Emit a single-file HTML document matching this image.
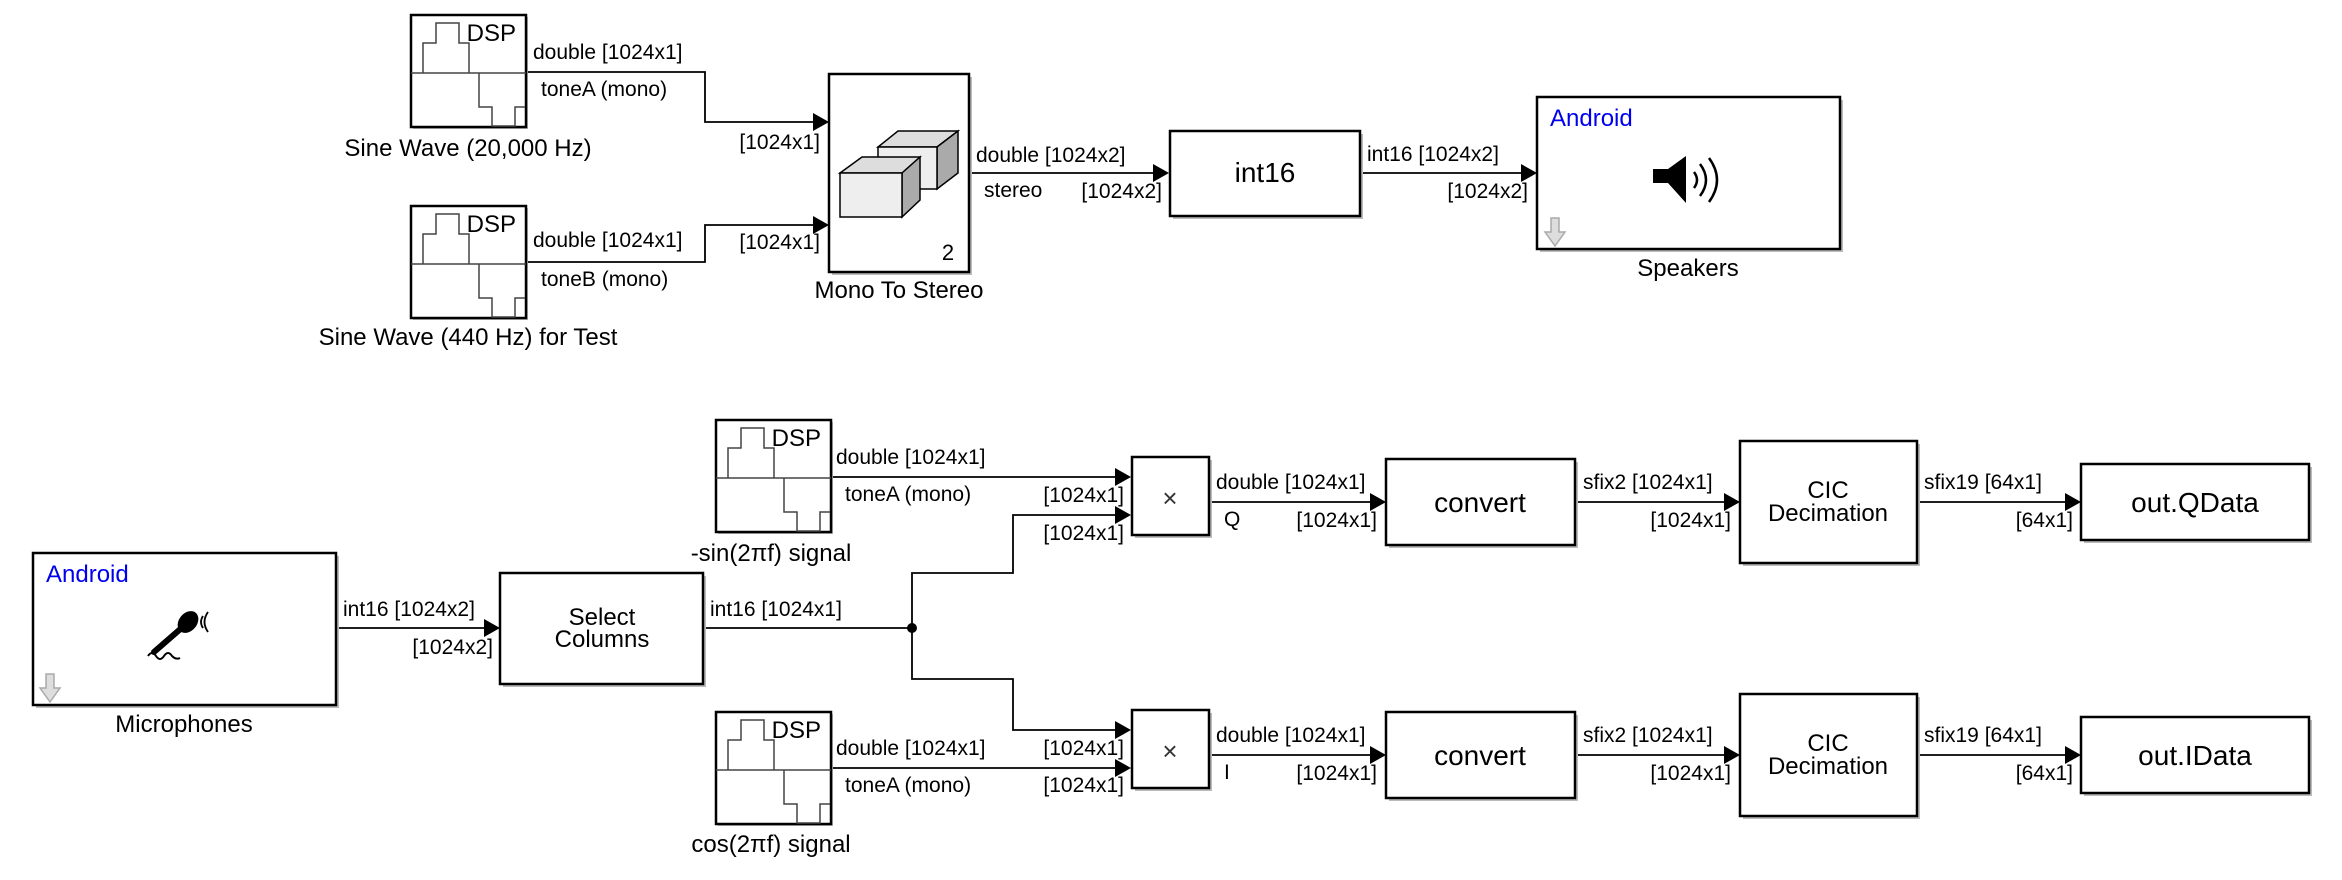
<!DOCTYPE html>
<html><head><meta charset="utf-8"><style>html,body{margin:0;padding:0;background:#fff;}svg{display:block}</style></head>
<body>
<svg width="2342" height="880" viewBox="0 0 2342 880" xmlns="http://www.w3.org/2000/svg" font-family="Liberation Sans, Arial, sans-serif">
<defs>
<g id="dsp">
<rect x="2" y="2" width="115" height="112" fill="#bbb"/>
<rect x="0" y="0" width="115" height="112" fill="#fff" stroke="#000" stroke-width="2.5"/>
<line x1="0" y1="58" x2="115" y2="58" stroke="#444" stroke-width="1.5"/>
<polyline points="12,58 12,28 25,28 25,8 48,8 48,28 58,28 58,58" fill="none" stroke="#444" stroke-width="1.5"/>
<polyline points="68,58 68,92 81,92 81,111 104,111 104,92 114,92" fill="none" stroke="#444" stroke-width="1.5"/>
<text x="105" y="26" font-size="24" text-anchor="end">DSP</text>
</g>
<g id="grey"><path d="M-4,0 h8 v14 h6 l-10,14 l-10,-14 h6 z" fill="#ddd" stroke="#aaa" stroke-width="1.5"/></g>
</defs>
<g fill="none" stroke="#000" stroke-width="1.8">
<polyline points="526,72 705,72 705,122 814,122"/>
<polyline points="526,262 705,262 705,225 814,225"/>
<line x1="969" y1="173" x2="1154" y2="173"/>
<line x1="1360" y1="173" x2="1522" y2="173"/>
<line x1="336" y1="628" x2="485" y2="628"/>
<line x1="703" y1="628" x2="912" y2="628"/>
<polyline points="912,628 912,573 1013,573 1013,515 1116,515"/>
<polyline points="912,628 912,679 1013,679 1013,730 1116,730"/>
<line x1="831" y1="477" x2="1116" y2="477"/>
<line x1="831" y1="768" x2="1116" y2="768"/>
<line x1="1209" y1="502" x2="1371" y2="502"/>
<line x1="1575" y1="502" x2="1725" y2="502"/>
<line x1="1917" y1="502" x2="2066" y2="502"/>
<line x1="1209" y1="755" x2="1371" y2="755"/>
<line x1="1575" y1="755" x2="1725" y2="755"/>
<line x1="1917" y1="755" x2="2066" y2="755"/>
</g>
<circle cx="912" cy="628" r="5" fill="#000"/>
<g fill="#000">
<polygon points="813,113 829,122 813,131"/>
<polygon points="813,216 829,225 813,234"/>
<polygon points="1153,164 1169,173 1153,182"/>
<polygon points="1521,164 1537,173 1521,182"/>
<polygon points="484,619 500,628 484,637"/>
<polygon points="1115,468 1131,477 1115,486"/>
<polygon points="1115,506 1131,515 1115,524"/>
<polygon points="1115,721 1131,730 1115,739"/>
<polygon points="1115,759 1131,768 1115,777"/>
<polygon points="1370,493 1386,502 1370,511"/>
<polygon points="1724,493 1740,502 1724,511"/>
<polygon points="2065,493 2081,502 2065,511"/>
<polygon points="1370,746 1386,755 1370,764"/>
<polygon points="1724,746 1740,755 1724,764"/>
<polygon points="2065,746 2081,755 2065,764"/>
</g>
<use href="#dsp" x="411" y="15"/>
<use href="#dsp" x="411" y="206"/>
<use href="#dsp" x="716" y="420"/>
<use href="#dsp" x="716" y="712"/>
<g stroke="none" fill="#bbb">
<rect x="832" y="77" width="140" height="198"/>
<rect x="1173" y="134" width="190" height="85"/>
<rect x="1540" y="100" width="303" height="152"/>
<rect x="36" y="556" width="303" height="152"/>
<rect x="503" y="576" width="203" height="111"/>
<rect x="1135" y="460" width="77" height="78"/>
<rect x="1389" y="462" width="189" height="86"/>
<rect x="1743" y="444" width="177" height="122"/>
<rect x="2084" y="467" width="228" height="76"/>
<rect x="1135" y="713" width="77" height="78"/>
<rect x="1389" y="715" width="189" height="86"/>
<rect x="1743" y="697" width="177" height="122"/>
<rect x="2084" y="720" width="228" height="76"/>
</g>
<g fill="#fff" stroke="#000" stroke-width="2.5">
<rect x="829" y="74" width="140" height="198"/>
<rect x="1170" y="131" width="190" height="85"/>
<rect x="1537" y="97" width="303" height="152"/>
<rect x="33" y="553" width="303" height="152"/>
<rect x="500" y="573" width="203" height="111"/>
<rect x="1132" y="457" width="77" height="78"/>
<rect x="1386" y="459" width="189" height="86"/>
<rect x="1740" y="441" width="177" height="122"/>
<rect x="2081" y="464" width="228" height="76"/>
<rect x="1132" y="710" width="77" height="78"/>
<rect x="1386" y="712" width="189" height="86"/>
<rect x="1740" y="694" width="177" height="122"/>
<rect x="2081" y="717" width="228" height="76"/>
</g>
<g stroke="#000" stroke-width="1.5">
<polygon points="878,147 937,147 958,131 898,131" fill="#ddd"/>
<polygon points="937,147 958,131 958,173 937,189" fill="#aaa"/>
<rect x="878" y="147" width="59" height="42" fill="#eee"/>
<polygon points="840,173 902,173 920,157 862,157" fill="#ddd"/>
<polygon points="902,173 920,157 920,200 902,217" fill="#aaa"/>
<rect x="840" y="173" width="62" height="44" fill="#eee"/>
</g>
<g fill="#000">
<rect x="1653" y="169" width="18" height="14"/>
<polygon points="1668,169 1686,156 1686,203 1668,183"/>
</g>
<g fill="none" stroke="#000" stroke-width="2.5">
<path d="M1694,172 q6,8 0,16"/>
<path d="M1700,164 q12,16 0,32"/>
<path d="M1709,158 q16,22 0,44"/>
</g>
<g>
<line x1="185" y1="625" x2="154" y2="652" stroke="#000" stroke-width="6" stroke-linecap="round"/>
<ellipse cx="188" cy="622" rx="9" ry="12" transform="rotate(40 188 622)" fill="#000"/>
<path d="M148,656 q4,-6 8,0 q4,6 8,0 q4,-6 8,0 q4,4 8,2" fill="none" stroke="#000" stroke-width="2"/>
<path d="M203,616 q-4,6 0,12 M208,612 q-7,10 0,20" fill="none" stroke="#000" stroke-width="1.8"/>
</g>
<use href="#grey" x="1555" y="218"/>
<use href="#grey" x="50" y="674"/>
<g font-size="21" fill="#000">
<text x="533" y="59">double [1024x1]</text>
<text x="541" y="96">toneA (mono)</text>
<text x="820" y="149" text-anchor="end">[1024x1]</text>
<text x="533" y="247">double [1024x1]</text>
<text x="541" y="286">toneB (mono)</text>
<text x="820" y="249" text-anchor="end">[1024x1]</text>
<text x="976" y="162">double [1024x2]</text>
<text x="984" y="197">stereo</text>
<text x="1162" y="198" text-anchor="end">[1024x2]</text>
<text x="1367" y="161">int16 [1024x2]</text>
<text x="1528" y="198" text-anchor="end">[1024x2]</text>
<text x="343" y="616">int16 [1024x2]</text>
<text x="493" y="654" text-anchor="end">[1024x2]</text>
<text x="710" y="616">int16 [1024x1]</text>
<text x="836" y="464">double [1024x1]</text>
<text x="845" y="501">toneA (mono)</text>
<text x="1124" y="502" text-anchor="end">[1024x1]</text>
<text x="1124" y="540" text-anchor="end">[1024x1]</text>
<text x="836" y="755">double [1024x1]</text>
<text x="845" y="792">toneA (mono)</text>
<text x="1124" y="755" text-anchor="end">[1024x1]</text>
<text x="1124" y="792" text-anchor="end">[1024x1]</text>
<text x="1216" y="489">double [1024x1]</text>
<text x="1224" y="526">Q</text>
<text x="1377" y="527" text-anchor="end">[1024x1]</text>
<text x="1583" y="489">sfix2 [1024x1]</text>
<text x="1731" y="527" text-anchor="end">[1024x1]</text>
<text x="1924" y="489">sfix19 [64x1]</text>
<text x="2073" y="527" text-anchor="end">[64x1]</text>
<text x="1216" y="742">double [1024x1]</text>
<text x="1224" y="779">I</text>
<text x="1377" y="780" text-anchor="end">[1024x1]</text>
<text x="1583" y="742">sfix2 [1024x1]</text>
<text x="1731" y="780" text-anchor="end">[1024x1]</text>
<text x="1924" y="742">sfix19 [64x1]</text>
<text x="2073" y="780" text-anchor="end">[64x1]</text>
<text x="948" y="260" text-anchor="middle" font-size="22">2</text>
</g>
<g font-size="24" fill="#000" text-anchor="middle">
<text x="468" y="156">Sine Wave (20,000 Hz)</text>
<text x="468" y="345">Sine Wave (440 Hz) for Test</text>
<text x="899" y="298">Mono To Stereo</text>
<text x="1688" y="276">Speakers</text>
<text x="184" y="732">Microphones</text>
<text x="771" y="561">-sin(2πf) signal</text>
<text x="771" y="852">cos(2πf) signal</text>
<text x="602" y="625">Select</text>
<text x="602" y="647">Columns</text>
<text x="1828" y="498">CIC</text>
<text x="1828" y="521">Decimation</text>
<text x="1828" y="751">CIC</text>
<text x="1828" y="774">Decimation</text>
</g>
<g font-size="28" fill="#000" text-anchor="middle">
<text x="1265" y="182">int16</text>
<text x="1480" y="512">convert</text>
<text x="1480" y="765">convert</text>
<text x="2195" y="512">out.QData</text>
<text x="2195" y="765">out.IData</text>
</g>
<g font-size="24" fill="#0000ee">
<text x="1550" y="126">Android</text>
<text x="46" y="582">Android</text>
</g>
<g font-size="26" fill="#333" text-anchor="middle">
<text x="1170" y="507">×</text>
<text x="1170" y="760">×</text>
</g>
</svg>
</body></html>
